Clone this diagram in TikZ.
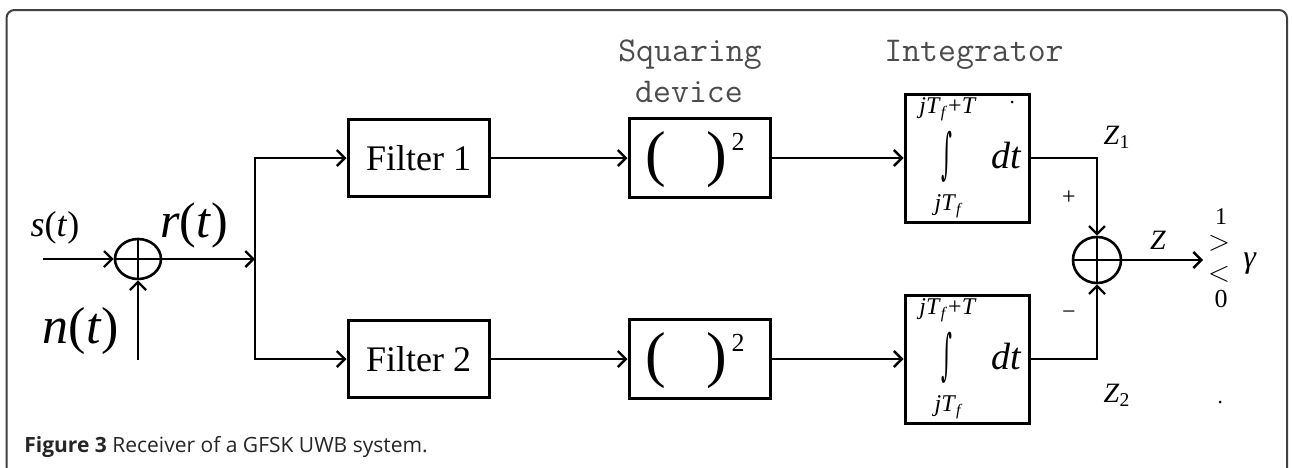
\documentclass[tikz,border=0pt]{standalone}
\usepackage{fontspec}
\usepackage{graphicx}
\setmainfont{Liberation Serif}
\newfontfamily\capfont{Open Sans}
\newfontfamily\intfont{DejaVu Serif}
\usetikzlibrary{arrows.meta,calc,shapes.geometric}

\newcommand{\fsz}[1]{\fontsize{#1}{#1}\selectfont}
\newcommand{\vi}[1]{\textit{#1}}

\tikzset{
  block/.style={draw, line width=1.5pt, minimum width=70.5pt, minimum height=38.5pt, inner sep=0pt},
  intblock/.style={draw, line width=1.5pt, minimum width=62pt, minimum height=64pt, inner sep=0pt},
  conn/.style={line width=1.3pt, -{Straight Barb[length=4pt,width=8pt,line width=1.2pt]}},
  summer/.style={draw, ellipse, line width=1.3pt, inner sep=0pt,
    path picture={\draw[line width=1.3pt]
      (path picture bounding box.north) -- (path picture bounding box.south)
      (path picture bounding box.west) -- (path picture bounding box.east);}},
  heading/.style={text=black!70, font=\ttfamily\fsz{17.4}, inner sep=0pt},
  sym/.style={inner sep=0pt},
}

\begin{document}
\begin{tikzpicture}[x=0.5pt,y=-0.5pt]
  \clip (0,0) rectangle (1292,467);
  \fill[white] (0,0) rectangle (1292,467);

  % rounded frame, open at the bottom
  \draw[line width=1pt, black!75, rounded corners=4pt]
    (6.5,480) -- (6.5,10) -- (1287,10) -- (1287,480);

  % input adder
  \node[summer, minimum width=23pt, minimum height=20pt] (sum1) at (138,259) {};
  \coordinate (sin) at (43,259);
  \coordinate (nin) at (138,360);
  \coordinate (br)  at (255,259);

  % two branches
  \node[block] (f1)  at (418.5,158) {\fsz{18}Filter 1};
  \node[block] (f2)  at (418.5,359) {\fsz{18}Filter 2};
  \node[block, minimum height=39.5pt] (sq1) at (699.5,158) {};
  \node[block, minimum height=39.5pt] (sq2) at (699.5,359) {};
  \node[intblock] (int1) at (967,158) {};
  \node[intblock] (int2) at (967,359) {};

  % output adder and decision point
  \node[summer, minimum width=24pt, minimum height=23pt] (sum2) at (1097,260) {};
  \coordinate (dec) at (1203,260);

  % connectors
  \draw[conn] (sin) -- (sum1.west);
  \draw[conn] (nin) -- (sum1.south);
  \draw[conn] (sum1.east) -- (br);
  \draw[conn] (br) |- (f1);
  \draw[conn] (br) |- (f2);
  \draw[conn] (f1) -- (sq1);
  \draw[conn] (f2) -- (sq2);
  \draw[conn] (sq1) -- (int1);
  \draw[conn] (sq2) -- (int2);
  \draw[conn] (int1.east) -| (sum2.north);
  \draw[conn] (int2.east) -| (sum2.south);
  \draw[conn] (sum2) -- (dec);

  % squaring symbols
  \foreach \b in {sq1,sq2}{
    \node[sym] at ([shift={(-43.5,2)}]\b.center) {\fsz{31}(};
    \node[sym] at ([shift={(17.5,2)}]\b.center) {\fsz{31})};
    \node[sym] at ([shift={(38.5,-16)}]\b.center) {\fsz{13}2};
  }

  % integrator symbols
  \foreach \b in {int1,int2}{
    \node[sym] at ([shift={(-19,-49)}]\b.center) {\fsz{12}\vi{jT}\textsubscript{\vi{f}}+\vi{T}};
    \node[sym] at ([shift={(-20,-1)}]\b.center) {\scalebox{0.75}[1.95]{\intfont\fsz{14}∫}};
    \node[sym] at ([shift={(40,-2)}]\b.center) {\fsz{19}\vi{dt}};
    \node[sym] at ([shift={(-18,48)}]\b.center) {\fsz{12}\vi{jT}\textsubscript{\vi{f}}};
  }
  \fill ([shift={(45,-56)}]int1.center) circle (1.5);

  % headings
  \node[heading] at (690,55) {Squaring};
  \node[heading] at (689,92) {device};
  \node[heading] at (974,55) {Integrator};

  % signal labels
  \node[sym] at (55,228) {\fsz{18}\vi{s}(\vi{t})};
  \node[sym] at (194,225) {\fsz{25}\vi{r}(\vi{t})};
  \node[sym] at (81,331) {\fsz{26}\vi{n}(\vi{t})};
  \node[sym] at (1117,137) {\fsz{14}\vi{Z}\textsubscript{1}};
  \node[sym] at (1117,395) {\fsz{14}\vi{Z}\textsubscript{2}};
  \node[sym] at (1069,198) {\fsz{12}+};
  \node[sym] at (1069,315) {\fsz{12}\textminus};
  \node[sym] at (1158,240) {\fsz{14}\vi{Z}};

  % decision rule
  \node[sym] at (1221,217) {\fsz{12}1};
  \node[sym] at (1219,243) {\fsz{14}$>$};
  \node[sym] at (1219,274) {\fsz{14}$<$};
  \node[sym] at (1221,299) {\fsz{13}0};
  \node[sym] at (1250,264) {\fsz{16}\vi{γ}};
  \fill (1220,402) circle (1.5);

  % caption
  \node[anchor=base west, inner sep=0pt, font=\capfont\fsz{10.5}, text=black!85] at (24,452)
    {\textbf{Figure 3} Receiver of a GFSK UWB system.};
\end{tikzpicture}
\end{document}
